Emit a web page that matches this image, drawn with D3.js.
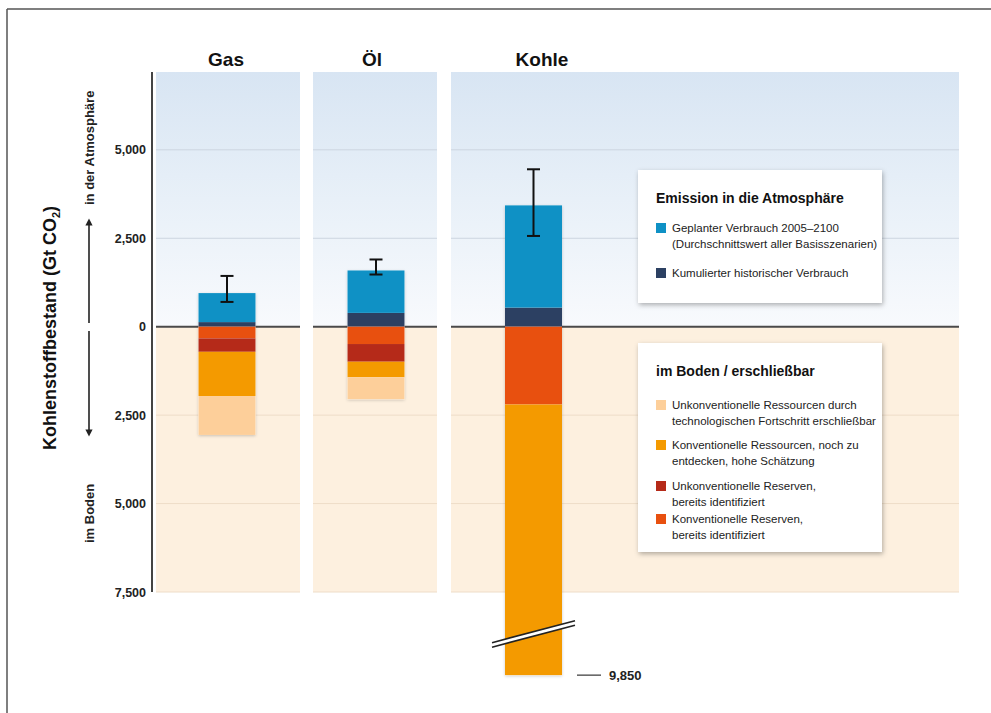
<!DOCTYPE html>
<html>
<head>
<meta charset="utf-8">
<script src="https://cdn.jsdelivr.net/npm/d3@7"></script>
<style>
  html, body { margin: 0; padding: 0; background: #fff; }
  svg { display: block; }
  text { font-family: "Liberation Sans Narrow", "Arial Narrow", "Liberation Sans", Arial, sans-serif; }
</style>
</head>
<body>
<svg id="chart" width="991" height="713"></svg>
<script>
// data (Gt CO2)
const fuels = ['Gas', 'Öl', 'Kohle'];
const historisch = [130, 390, 540];
const geplant = [820, 1200, 2890];
const geplantMin = [700, 1475, 2565];
const geplantMax = [1435, 1900, 4450];
const konvReserven = [330, 490, 2200];
const unkonvReserven = [380, 500, 0];
const konvRessourcen = [1250, 440, 7650];
const unkonvRessourcen = [1100, 620, 0];

const tickValues = [5000, 2500, 0, -2500, -5000, -7500];
const kohleMax = 9850;

const emissionLabels = [
  ['Geplanter Verbrauch 2005–2100', '(Durchschnittswert aller Basisszenarien)'],
  ['Kumulierter historischer Verbrauch']
];
const bodenLabels = [
  ['Unkonventionelle Ressourcen durch', 'technologischen Fortschritt erschließbar'],
  ['Konventionelle Ressourcen, noch zu', 'entdecken, hohe Schätzung'],
  ['Unkonventionelle Reserven,', 'bereits identifiziert'],
  ['Konventionelle Reserven,', 'bereits identifiziert']
];

const colors = {
  historisch: '#2c4062',
  geplant: '#0f91c5',
  konvReserven: '#e8500f',
  unkonvReserven: '#b52a19',
  konvRessourcen: '#f49a00',
  unkonvRessourcen: '#fdcf9a'
};

// layout
const svg = d3.select('#chart');
const plotTop = 72, plotBottom = 592;
const panels = { 'Gas': [156, 300], 'Öl': [313, 437], 'Kohle': [451, 959] };
const titleX = { 'Gas': 226, 'Öl': 372, 'Kohle': 542 };
const barCenter = { 'Gas': 227, 'Öl': 376, 'Kohle': 533.5 };
const barW = 57;

const y = d3.scaleLinear().domain([7200, -7500]).range([plotTop, plotBottom]);

const defs = svg.append('defs');
const grad = defs.append('linearGradient')
  .attr('id', 'sky').attr('gradientUnits', 'userSpaceOnUse')
  .attr('x1', 0).attr('x2', 0).attr('y1', plotTop).attr('y2', y(0));
grad.append('stop').attr('offset', 0).attr('stop-color', '#d8e5f3');
grad.append('stop').attr('offset', 0.5).attr('stop-color', '#e8f0f8');
grad.append('stop').attr('offset', 1).attr('stop-color', '#f8fafd');

const shadow = defs.append('filter').attr('id', 'shadow')
  .attr('x', '-20%').attr('y', '-20%').attr('width', '140%').attr('height', '140%');
shadow.append('feDropShadow').attr('dx', 1).attr('dy', 2)
  .attr('stdDeviation', 2.5).attr('flood-color', '#000').attr('flood-opacity', 0.3);
const barShadow = defs.append('filter').attr('id', 'barShadow')
  .attr('x', '-20%').attr('y', '-10%').attr('width', '140%').attr('height', '120%');
barShadow.append('feDropShadow').attr('dx', 0).attr('dy', 1)
  .attr('stdDeviation', 1.5).attr('flood-color', '#000').attr('flood-opacity', 0.2);

// frame (top + left only)
svg.append('line').attr('x1', 7).attr('x2', 991).attr('y1', 9).attr('y2', 9)
  .attr('stroke', '#555').attr('stroke-width', 1.5);
svg.append('line').attr('x1', 7).attr('x2', 7).attr('y1', 9).attr('y2', 713)
  .attr('stroke', '#555').attr('stroke-width', 1.5);

// panels
fuels.forEach(f => {
  const [x0, x1] = panels[f];
  svg.append('rect').attr('x', x0).attr('y', plotTop).attr('width', x1 - x0)
    .attr('height', y(0) - plotTop).attr('fill', 'url(#sky)');
  svg.append('rect').attr('x', x0).attr('y', y(0)).attr('width', x1 - x0)
    .attr('height', plotBottom - y(0)).attr('fill', '#fdf0df');
  tickValues.filter(t => t !== 0).forEach(t => {
    svg.append('line').attr('x1', x0).attr('x2', x1).attr('y1', y(t)).attr('y2', y(t))
      .attr('stroke', t > 0 ? '#ccd5e0' : '#eeddc8').attr('stroke-width', 1);
  });
  svg.append('line').attr('x1', x0).attr('x2', x1).attr('y1', y(0)).attr('y2', y(0))
    .attr('stroke', '#4a4a4a').attr('stroke-width', 2);
  svg.append('text').attr('x', titleX[f])
    .attr('y', 66).attr('text-anchor', 'middle')
    .attr('font-size', 19).attr('font-weight', 'bold').attr('fill', '#111').text(f);
});

// y axis
const axis = svg.append('g').attr('transform', 'translate(152,0)')
  .call(d3.axisLeft(y).tickValues(tickValues).tickSize(0).tickPadding(6)
    .tickFormat(d => d3.format(',')(Math.abs(d))));
axis.select('.domain').remove();
axis.selectAll('text').attr('font-size', 12.5).attr('font-weight', 'bold')
  .attr('fill', '#222').attr('font-family', '"Liberation Sans Narrow", "Arial Narrow", "Liberation Sans", sans-serif');
svg.append('line').attr('x1', 152).attr('x2', 152).attr('y1', plotTop).attr('y2', plotBottom)
  .attr('stroke', '#444').attr('stroke-width', 2);

// stacked bars
const keys = ['historisch', 'geplant', 'konvReserven', 'unkonvReserven', 'konvRessourcen', 'unkonvRessourcen'];
const rows = fuels.map((f, i) => ({
  fuel: f,
  historisch: historisch[i],
  geplant: geplant[i],
  konvReserven: -konvReserven[i],
  unkonvReserven: -unkonvReserven[i],
  konvRessourcen: -konvRessourcen[i],
  unkonvRessourcen: -unkonvRessourcen[i]
}));
const series = d3.stack().keys(keys).offset(d3.stackOffsetDiverging)(rows);

const barsG = svg.append('g');
// shadow base per bar
barsG.selectAll('rect.base').data(rows).enter().append('rect')
  .attr('class', 'base')
  .attr('x', d => barCenter[d.fuel] - barW / 2)
  .attr('width', barW)
  .attr('y', d => y(d.historisch + d.geplant))
  .attr('height', d => y(d.konvReserven + d.unkonvReserven + d.konvRessourcen + d.unkonvRessourcen) - y(d.historisch + d.geplant))
  .attr('fill', '#fff').attr('filter', 'url(#barShadow)');

barsG.selectAll('g.layer').data(series).enter().append('g')
  .attr('class', 'layer').attr('fill', s => colors[s.key])
  .selectAll('rect').data(s => s).enter().append('rect')
    .attr('x', d => barCenter[d.data.fuel] - barW / 2)
    .attr('width', barW)
    .attr('y', d => y(Math.max(d[0], d[1])))
    .attr('height', d => Math.abs(y(d[0]) - y(d[1])));

// error bars
fuels.forEach((f, i) => {
  const cx = barCenter[f];
  const g = svg.append('g').attr('stroke', '#111').attr('stroke-width', 2);
  g.append('line').attr('x1', cx).attr('x2', cx).attr('y1', y(geplantMax[i])).attr('y2', y(geplantMin[i]));
  [geplantMax[i], geplantMin[i]].forEach(v => {
    g.append('line').attr('x1', cx - 6.5).attr('x2', cx + 6.5).attr('y1', y(v)).attr('y2', y(v));
  });
});

// break mark on Kohle bar
const brk = y(-8650);
const bx0 = 492, bx1 = 575;
svg.append('polygon')
  .attr('points', `${bx0},${brk + 10} ${bx1},${brk - 12} ${bx1},${brk - 7.5} ${bx0},${brk + 14.5}`)
  .attr('fill', '#fff');
svg.append('line').attr('x1', bx0).attr('y1', brk + 10).attr('x2', bx1).attr('y2', brk - 12)
  .attr('stroke', '#222').attr('stroke-width', 1.6);
svg.append('line').attr('x1', bx0).attr('y1', brk + 14.5).attr('x2', bx1).attr('y2', brk - 7.5)
  .attr('stroke', '#222').attr('stroke-width', 1.6);

// 9,850 label
svg.append('line').attr('x1', 577).attr('x2', 601).attr('y1', y(-kohleMax)).attr('y2', y(-kohleMax))
  .attr('stroke', '#333').attr('stroke-width', 1.2);
svg.append('text').attr('x', 609).attr('y', y(-kohleMax) + 5)
  .attr('font-size', 13).attr('font-weight', 'bold').attr('fill', '#222')
  .text(d3.format(',')(kohleMax));

// axis titles
const yt = svg.append('text').attr('transform', 'translate(56,328) rotate(-90)')
  .attr('text-anchor', 'middle').attr('font-size', 18).attr('font-weight', 'bold').attr('fill', '#111');
yt.append('tspan').text('Kohlenstoffbestand (Gt CO');
yt.append('tspan').attr('font-size', 11).attr('dy', 4).text('2');
yt.append('tspan').attr('dy', -4).text(')');

svg.append('text').attr('transform', 'translate(94,205) rotate(-90)')
  .attr('font-size', 13).attr('font-weight', 'bold').attr('fill', '#222').text('in der Atmosphäre');
svg.append('text').attr('transform', 'translate(94,543) rotate(-90)')
  .attr('font-size', 13).attr('font-weight', 'bold').attr('fill', '#222').text('im Boden');

// arrows
defs.append('marker').attr('id', 'arrow').attr('viewBox', '0 0 10 10')
  .attr('refX', 5).attr('refY', 5).attr('markerWidth', 4.5).attr('markerHeight', 4.5)
  .attr('orient', 'auto-start-reverse')
  .append('path').attr('d', 'M0,0 L10,5 L0,10 z').attr('fill', '#222');
svg.append('line').attr('x1', 89).attr('x2', 89).attr('y1', 323).attr('y2', 222)
  .attr('stroke', '#222').attr('stroke-width', 1.6).attr('marker-end', 'url(#arrow)');
svg.append('line').attr('x1', 89).attr('x2', 89).attr('y1', 331).attr('y2', 433)
  .attr('stroke', '#222').attr('stroke-width', 1.6).attr('marker-end', 'url(#arrow)');

// legends
function legend(x, yTop, w, h, title, items, cols, rowY) {
  const g = svg.append('g');
  g.append('rect').attr('x', x).attr('y', yTop).attr('width', w).attr('height', h)
    .attr('fill', '#fff').attr('filter', 'url(#shadow)');
  g.append('text').attr('x', x + 18).attr('y', yTop + 33)
    .attr('font-size', 14).attr('font-weight', 'bold').attr('fill', '#111').text(title);
  items.forEach((lines, i) => {
    const ry = rowY[i];
    g.append('rect').attr('x', x + 18).attr('y', ry - 9).attr('width', 10).attr('height', 10)
      .attr('fill', cols[i]);
    lines.forEach((l, j) => {
      g.append('text').attr('x', x + 34).attr('y', ry + j * 16)
        .attr('font-size', 11.5).attr('fill', '#222').text(l);
    });
  });
}
legend(638, 170, 244, 133, 'Emission in die Atmosphäre', emissionLabels,
  [colors.geplant, colors.historisch], [232, 277]);
legend(638, 343, 244, 209, 'im Boden / erschließbar', bodenLabels,
  [colors.unkonvRessourcen, colors.konvRessourcen, colors.unkonvReserven, colors.konvReserven],
  [409, 449, 490, 523]);
</script>
</body>
</html>
